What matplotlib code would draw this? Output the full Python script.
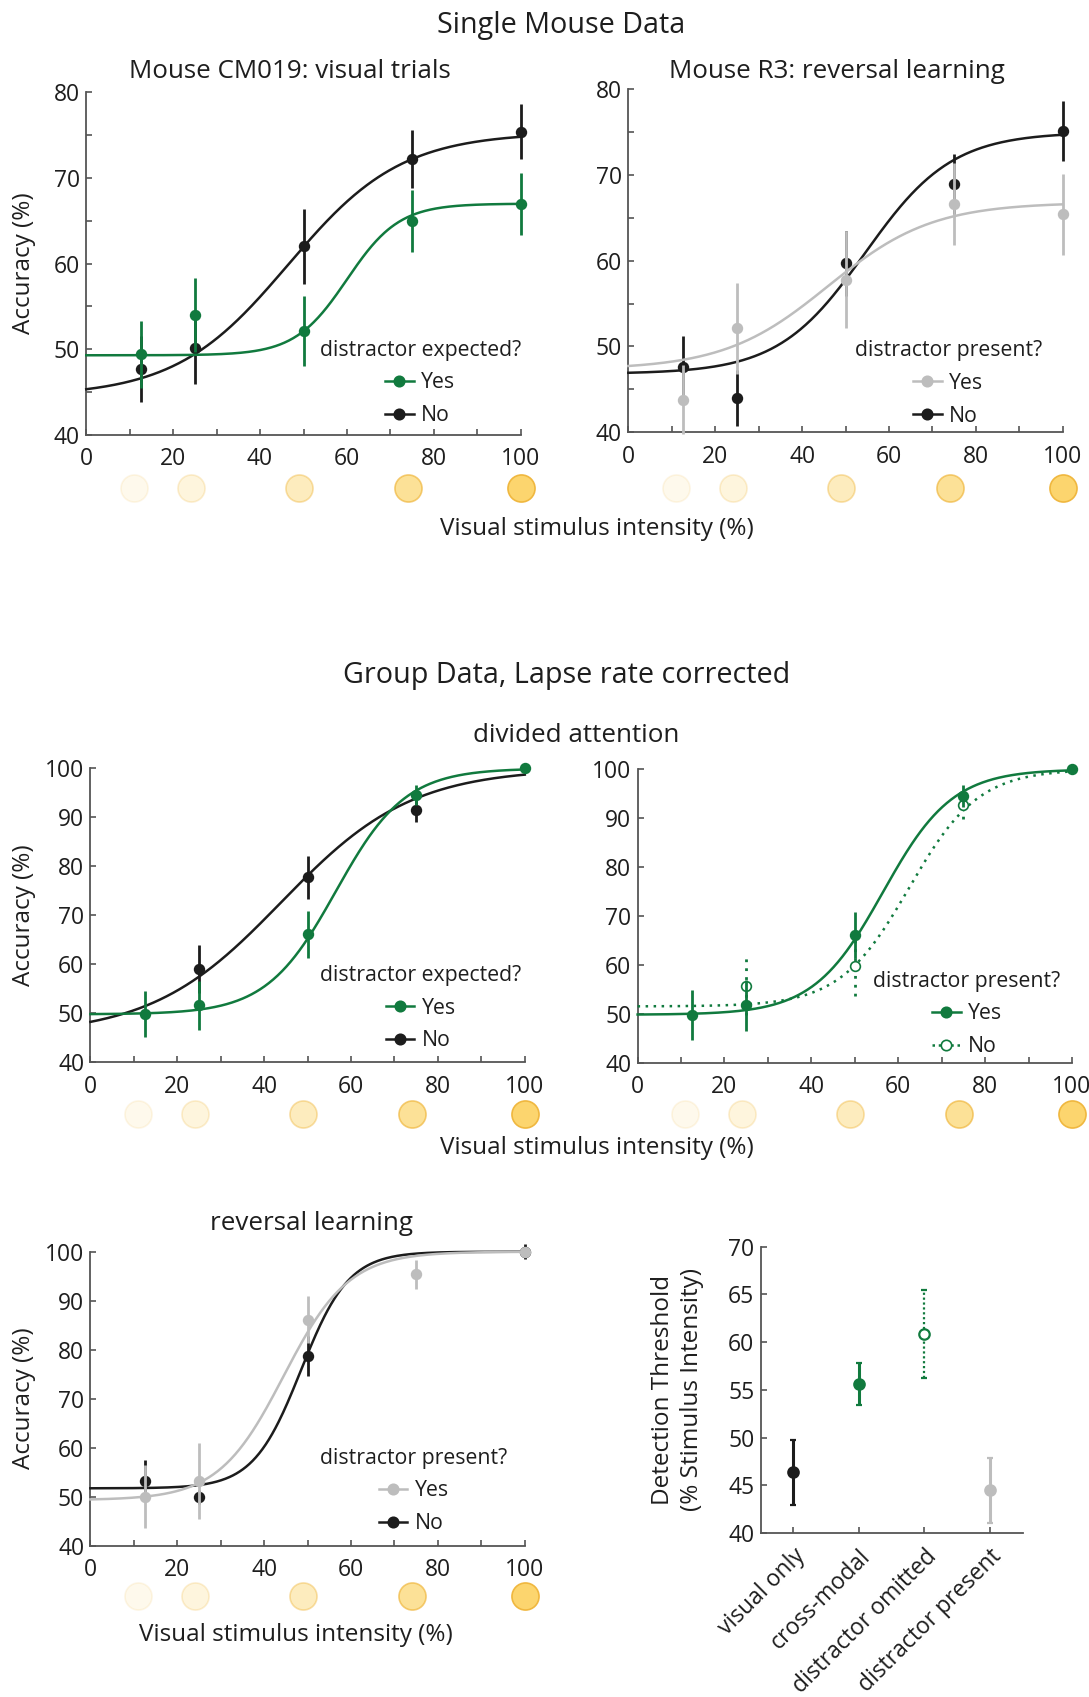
import numpy as np
import matplotlib
matplotlib.use('Agg')
import matplotlib.pyplot as plt
from matplotlib.lines import Line2D

plt.rcParams['font.family'] = ['Open Sans', 'DejaVu Sans']

# cores
VERDE = '#117a3e'
PRETO = '#1c1c1c'
CINZA = '#bdbdbd'
EIXO = '#555555'
TEXTO = '#1e1e1e'

# intensidades do estimulo
stim = [12.5, 25, 50, 75, 100]
stim_circulos = [11, 24, 49, 74, 100]
circ_alpha = [0.12, 0.22, 0.42, 0.68, 0.95]

# Mouse CM019 - visual trials
cm019_yes = [49.4, 54.0, 52.1, 65.0, 67.0]
cm019_yes_err = [3.9, 4.3, 4.1, 3.6, 3.6]
cm019_no = [47.7, 50.2, 62.0, 72.2, 75.4]
cm019_no_err = [3.8, 4.2, 4.4, 3.4, 3.2]
cm019_yes_fit = [49.3, 67.0, 60.0, 6.0]   # base, topo, limiar, inclinacao
cm019_no_fit = [44.5, 75.3, 46.5, 13.0]

# Mouse R3 - reversal learning
r3_yes = [43.8, 52.1, 57.8, 66.6, 65.4]
r3_yes_err = [4.0, 5.3, 5.7, 4.8, 4.7]
r3_no = [47.6, 44.0, 59.7, 69.0, 75.2]
r3_no_err = [3.6, 3.3, 3.8, 3.5, 3.5]
r3_yes_fit = [47.3, 66.8, 46.0, 12.0]
r3_no_fit = [46.8, 75.0, 54.5, 10.0]

# Grupo - divided attention (distractor expected?)
da_yes = [49.8, 51.6, 66.1, 94.6, 100.0]
da_yes_err = [4.7, 5.1, 4.8, 2.0, 0.0]
da_no_x = [25, 50, 75]
da_no = [59.0, 77.8, 91.5]
da_no_err = [4.9, 4.4, 2.5]
da_yes_fit = [49.8, 100.0, 56.5, 8.0]
da_no_fit = [45.5, 100.0, 44.0, 15.0]

# Grupo - divided attention (distractor present?)
dp_yes = [49.8, 51.7, 66.1, 94.5, 100.0]
dp_yes_err = [5.1, 5.2, 4.7, 2.2, 0.0]
dp_no_x = [25, 50, 75]
dp_no = [55.6, 59.8, 92.7]
dp_no_err = [5.8, 6.2, 2.8]
dp_yes_fit = [49.8, 100.0, 56.5, 8.0]
dp_no_fit = [51.5, 100.0, 62.5, 8.0]

# Grupo - reversal learning
rl_yes = [50.0, 53.2, 86.1, 95.4, 100.0]
rl_yes_err = [6.5, 7.7, 4.8, 3.0, 0.0]
rl_no_x = [12.5, 25, 50, 100]
rl_no = [53.2, 49.9, 78.7, 100.0]
rl_no_err = [4.3, 1.5, 4.1, 1.5]
rl_yes_fit = [49.3, 100.0, 44.5, 7.5]
rl_no_fit = [51.7, 100.0, 48.5, 5.5]

# Limiares de deteccao
cond_labels = ['visual only', 'cross-modal', 'distractor omitted', 'distractor present']
limiar = [46.4, 55.6, 60.9, 44.5]
limiar_err = [3.4, 2.2, 4.6, 3.4]

FS_TICK = 16.5
FS_LABEL = 17.5
FS_TITLE = 18.7
FS_SUP = 20.7
FS_LEG = 15.3


def psicometrica(x, base, topo, x0, s):
    return base + (topo - base) / (1 + np.exp(-(x - x0) / s))


def limpa_eixo(ax):
    for lado in ['top', 'right']:
        ax.spines[lado].set_visible(False)
    for lado in ['left', 'bottom']:
        ax.spines[lado].set_color(EIXO)
        ax.spines[lado].set_linewidth(1.3)
    ax.tick_params(which='both', direction='in', length=4, width=1.2, color=EIXO,
                   labelsize=FS_TICK, labelcolor=TEXTO)
    ax.tick_params(axis='x', which='both', pad=9)
    ax.tick_params(axis='y', which='both', pad=4.5)


def estilo_eixo(ax, ylim, yticks, yminor=None):
    ax.set_xlim(0, 100)
    ax.set_ylim(*ylim)
    ax.set_xticks(range(0, 101, 20))
    ax.set_xticks(range(10, 100, 20), minor=True)
    ax.set_yticks(yticks)
    if yminor is not None:
        ax.set_yticks(yminor, minor=True)
    limpa_eixo(ax)


def circulos(ax, yfrac):
    tr = ax.get_xaxis_transform()
    for xc, a in zip(stim_circulos, circ_alpha):
        ax.scatter([xc], [yfrac], s=380, transform=tr, clip_on=False,
                   facecolor=matplotlib.colors.to_rgba('#fcd366', a),
                   edgecolor=matplotlib.colors.to_rgba('#efb53a', a), linewidth=1.2, zorder=3)


def serie(ax, x, y, err, fit, cor, face=None, pontilhado=False, z=3):
    xx = np.linspace(0, 100, 400)
    ax.plot(xx, psicometrica(xx, *fit), color=cor, lw=1.8,
            ls=(0, (1, 2.2)) if pontilhado else '-', zorder=z, clip_on=False)
    eb = ax.errorbar(x, y, yerr=err, fmt='o', color=cor, ms=7, elinewidth=2.0,
                     mfc=face if face else cor, mec=cor, mew=1.2, capsize=0, zorder=z + 0.5)
    eb.lines[0].set_clip_on(False)
    for col in eb.lines[2]:
        col.set_clip_on(False)
        if pontilhado:
            col.set_linestyle((0, (1, 2.2)))


def legenda(ax, titulo, cores, faces, estilos, bbox):
    hs = []
    for c, f, e in zip(cores, faces, estilos):
        hs.append(Line2D([], [], color=c, marker='o', ms=7.5, mfc=f, mec=c, mew=1.2, lw=1.8,
                         ls=e))
    leg = ax.legend(hs, ['Yes', 'No'], title=titulo, loc='lower right', bbox_to_anchor=bbox,
                    frameon=False, fontsize=FS_LEG, title_fontsize=FS_LEG, handlelength=1.35,
                    handletextpad=0.35, labelspacing=0.55, borderaxespad=0, borderpad=0)
    for t in leg.get_texts():
        t.set_color(TEXTO)
    leg.get_title().set_color(TEXTO)


def texto(x, y, s, fs):
    fig.text(x / 1089, 1 - y / 1697, s, ha='center', va='center', fontsize=fs, color=TEXTO)


fig = plt.figure(figsize=(10.89, 16.97), dpi=100)

# ---------- linha 1: dados individuais ----------
ax1 = fig.add_axes([0.0792, 0.7437, 0.399, 0.2019])
serie(ax1, stim, cm019_no, cm019_no_err, cm019_no_fit, PRETO)
serie(ax1, stim, cm019_yes, cm019_yes_err, cm019_yes_fit, VERDE, z=4)
estilo_eixo(ax1, (40, 80), range(40, 81, 10), range(45, 80, 10))
ax1.set_ylabel('Accuracy (%)', fontsize=FS_LABEL, color=TEXTO)
ax1.yaxis.set_label_coords(-0.1155, 0.5)
legenda(ax1, 'distractor expected?', [VERDE, PRETO], [VERDE, PRETO], ['-', '-'], (1.0, 0.026))
circulos(ax1, -0.154)

ax2 = fig.add_axes([0.577, 0.7454, 0.3989, 0.2019])
serie(ax2, stim, r3_no, r3_no_err, r3_no_fit, PRETO)
serie(ax2, stim, r3_yes, r3_yes_err, r3_yes_fit, CINZA, z=4)
estilo_eixo(ax2, (40, 80), range(40, 81, 10), range(45, 80, 10))
legenda(ax2, 'distractor present?', [CINZA, PRETO], [CINZA, PRETO], ['-', '-'], (0.952, 0.016))
circulos(ax2, -0.163)

texto(561, 26, 'Single Mouse Data', FS_SUP)
texto(290, 71, 'Mouse CM019: visual trials', FS_TITLE)
texto(837, 71, 'Mouse R3: reversal learning', FS_TITLE)
texto(597, 529, 'Visual stimulus intensity (%)', FS_LABEL)

# ---------- linha 2: divided attention ----------
texto(567, 675, 'Group Data, Lapse rate corrected', FS_SUP)
texto(576, 735, 'divided attention', FS_TITLE)

ax3 = fig.add_axes([0.0830, 0.374, 0.3989, 0.1732])
serie(ax3, da_no_x, da_no, da_no_err, da_no_fit, PRETO)
serie(ax3, stim, da_yes, da_yes_err, da_yes_fit, VERDE, z=4)
estilo_eixo(ax3, (40, 100), range(40, 101, 10))
ax3.set_ylabel('Accuracy (%)', fontsize=FS_LABEL, color=TEXTO)
ax3.yaxis.set_label_coords(-0.125, 0.5)
legenda(ax3, 'distractor expected?', [VERDE, PRETO], [VERDE, PRETO], ['-', '-'], (0.992, 0.037))
circulos(ax3, -0.176)

ax4 = fig.add_axes([0.5855, 0.3738, 0.3989, 0.1729])
serie(ax4, dp_no_x, dp_no, dp_no_err, dp_no_fit, VERDE, face='white', pontilhado=True)
serie(ax4, stim, dp_yes, dp_yes_err, dp_yes_fit, VERDE, z=4)
estilo_eixo(ax4, (40, 100), range(40, 101, 10))
legenda(ax4, 'distractor present?', [VERDE, VERDE], [VERDE, 'white'], ['-', (0, (1, 1.5))],
        (0.974, 0.019))
circulos(ax4, -0.175)

texto(597, 1148, 'Visual stimulus intensity (%)', FS_LABEL)

# ---------- linha 3 ----------
ax5 = fig.add_axes([0.0830, 0.0892, 0.3989, 0.1732])
serie(ax5, rl_no_x, rl_no, rl_no_err, rl_no_fit, PRETO)
serie(ax5, stim, rl_yes, rl_yes_err, rl_yes_fit, CINZA, z=4)
estilo_eixo(ax5, (40, 100), range(40, 101, 10))
ax5.set_ylabel('Accuracy (%)', fontsize=FS_LABEL, color=TEXTO)
ax5.yaxis.set_label_coords(-0.125, 0.5)
legenda(ax5, 'distractor present?', [CINZA, PRETO], [CINZA, PRETO], ['-', '-'], (0.96, 0.039))
circulos(ax5, -0.171)
texto(312, 1223, 'reversal learning', FS_TITLE)
texto(296, 1635, 'Visual stimulus intensity (%)', FS_LABEL)

ax6 = fig.add_axes([0.6985, 0.0965, 0.2406, 0.1689])
cores6 = [PRETO, VERDE, VERDE, CINZA]
faces6 = [PRETO, VERDE, 'white', CINZA]
for i, (v, e, c, f) in enumerate(zip(limiar, limiar_err, cores6, faces6)):
    eb = ax6.errorbar(i + 1, v, yerr=e, fmt='o', color=c, mfc=f, mec=c, mew=1.6, ms=7.5,
                      elinewidth=2.2 if f != 'white' else 1.6, capsize=2.5, capthick=2.2)
    if f == 'white':
        eb.lines[2][0].set_linestyle((0, (1, 1.2)))
ax6.set_xlim(0.5, 4.5)
ax6.set_ylim(40, 70)
ax6.set_yticks(range(40, 71, 5))
ax6.set_xticks(range(1, 5))
ax6.set_xticklabels(cond_labels, rotation=45, ha='right', rotation_mode='anchor')
limpa_eixo(ax6)
ax6.tick_params(axis='x', pad=8)
ax6.set_ylabel('Detection Threshold\n(% Stimulus Intensity)', fontsize=FS_LABEL, color=TEXTO,
               linespacing=1.25)
ax6.yaxis.set_label_coords(-0.217, 0.5)

fig.savefig('out.png', dpi=100)
